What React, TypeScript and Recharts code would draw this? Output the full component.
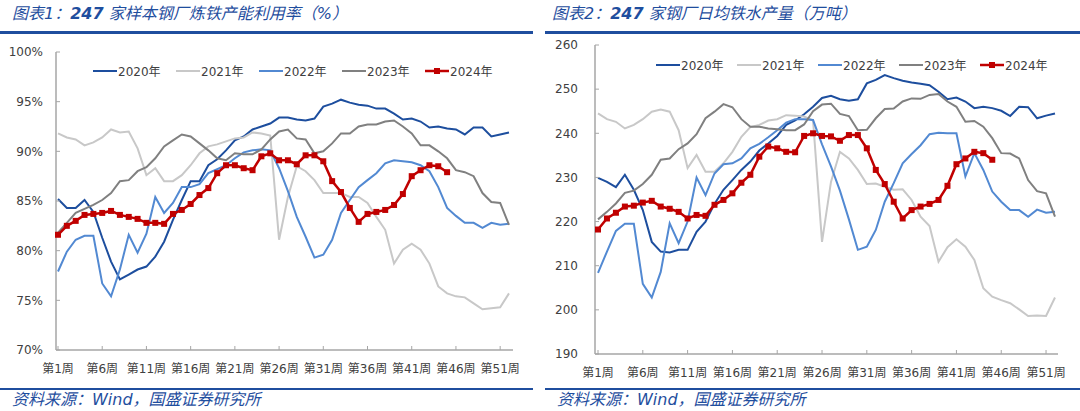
import { LineChart, Line, XAxis, YAxis } from 'recharts'
import type { ReactNode } from 'react'

const weeks = Array.from({ length: 52 }, (_, i) => `第${i + 1}周`)
const years = ['2020年', '2021年', '2022年', '2023年', '2024年']

// 图表1 产能利用率 (%)
const util2020 = [85.2, 84.3, 84.3, 85.1, 83.9, 81.3, 78.9, 77.1, 77.6, 78.1, 78.4, 79.4, 80.9, 83.1, 85.1, 87.0, 87.0, 88.6, 89.2, 90.1, 91.1, 91.5, 92.2, 92.5, 92.8, 93.4, 93.4, 93.2, 93.1, 93.3, 94.5, 94.8, 95.2, 94.9, 94.7, 94.6, 94.3, 94.3, 93.8, 93.2, 93.3, 93.0, 92.4, 92.5, 92.3, 92.2, 91.7, 92.4, 92.4, 91.5, 91.7, 91.9]
const util2021 = [91.8, 91.4, 91.2, 90.6, 90.9, 91.4, 92.2, 91.9, 92.0, 90.3, 87.6, 88.3, 87.0, 87.0, 87.6, 88.6, 89.8, 90.5, 90.7, 91.0, 91.3, 91.4, 91.9, 91.8, 91.6, 81.1, 85.4, 88.5, 88.0, 87.1, 85.8, 85.8, 85.8, 85.4, 85.4, 84.8, 83.4, 82.1, 78.7, 80.1, 80.7, 80.1, 78.7, 76.4, 75.7, 75.4, 75.3, 74.7, 74.1, 74.2, 74.3, 75.7]
const util2022 = [77.9, 79.9, 81.1, 81.5, 81.5, 76.7, 75.4, 78.1, 81.6, 79.8, 81.7, 85.4, 83.8, 84.8, 86.4, 86.4, 86.7, 87.8, 88.2, 88.6, 89.3, 89.9, 90.1, 90.2, 90.1, 88.3, 86.0, 83.4, 81.4, 79.3, 79.6, 81.1, 83.8, 85.1, 86.4, 87.1, 87.8, 88.8, 89.1, 89.0, 88.9, 88.6, 88.0, 86.4, 84.3, 83.5, 82.8, 82.8, 82.3, 82.8, 82.6, 82.7]
const util2023 = [81.8, 82.8, 83.8, 84.2, 84.6, 85.1, 85.8, 87.0, 87.1, 88.0, 88.4, 89.3, 90.5, 91.1, 91.7, 91.5, 90.8, 90.1, 89.3, 89.1, 89.8, 89.7, 89.7, 90.2, 91.2, 92.0, 92.2, 91.3, 91.2, 89.8, 90.0, 90.8, 91.8, 91.8, 92.5, 92.7, 92.7, 93.0, 93.1, 92.5, 91.8, 90.6, 90.6, 90.0, 89.3, 88.1, 87.9, 87.5, 85.8, 84.9, 84.8, 82.6]
const util2024 = [81.6, 82.5, 83.0, 83.6, 83.7, 83.8, 84.0, 83.6, 83.4, 83.2, 82.8, 82.8, 82.7, 83.7, 84.1, 84.7, 85.6, 86.3, 87.8, 88.6, 88.6, 88.3, 88.1, 89.5, 89.8, 89.1, 89.1, 88.7, 89.6, 89.6, 89.0, 87.0, 85.9, 84.3, 82.9, 83.7, 83.9, 84.1, 84.6, 85.7, 87.5, 88.1, 88.6, 88.5, 87.9]
const utilTicks = [70, 75, 80, 85, 90, 95, 100]

// 图表2 日均铁水产量 (万吨)
const iron2020 = [229.9, 229.0, 227.8, 230.6, 227.2, 222.6, 215.4, 213.2, 213.0, 213.6, 213.6, 217.7, 220.0, 224.0, 227.2, 229.4, 231.7, 233.6, 236.1, 237.7, 239.4, 241.9, 242.9, 244.3, 246.0, 248.0, 248.5, 247.7, 247.4, 247.7, 251.3, 252.1, 253.2, 252.5, 251.9, 251.5, 251.2, 250.9, 249.4, 247.7, 248.1, 247.2, 245.7, 246.0, 245.7, 245.1, 243.9, 246.0, 245.9, 243.4, 244.0, 244.5]
const iron2021 = [244.5, 243.2, 242.6, 241.1, 241.9, 243.2, 244.9, 245.4, 244.9, 240.7, 232.1, 235.1, 231.3, 231.3, 233.2, 235.8, 239.2, 241.4, 241.9, 242.9, 243.2, 244.1, 244.0, 243.8, 242.9, 215.4, 229.0, 235.8, 234.3, 231.7, 228.5, 228.6, 227.9, 227.2, 227.3, 224.9, 221.1, 219.0, 210.9, 214.2, 216.0, 214.3, 211.3, 204.9, 203.0, 202.2, 201.5, 200.1, 198.6, 198.7, 198.6, 202.8]
const iron2022 = [208.4, 213.2, 217.9, 219.5, 219.5, 205.9, 202.8, 208.6, 219.6, 215.1, 220.0, 230.0, 226.0, 230.9, 233.0, 233.2, 234.3, 236.6, 237.6, 239.1, 240.7, 242.4, 243.2, 243.2, 243.0, 237.5, 232.5, 227.0, 220.5, 213.6, 214.3, 218.1, 224.5, 228.7, 233.2, 235.3, 237.3, 239.8, 240.1, 240.0, 240.0, 230.2, 235.5, 231.7, 226.8, 224.5, 222.6, 222.6, 221.1, 222.7, 222.0, 222.2]
const iron2023 = [220.5, 222.2, 224.1, 226.5, 227.0, 228.5, 230.6, 234.0, 234.3, 236.4, 237.7, 239.8, 243.4, 244.9, 246.6, 245.9, 243.2, 241.5, 241.5, 241.1, 240.9, 240.7, 240.7, 242.0, 245.0, 246.5, 246.7, 244.4, 243.9, 240.7, 240.8, 243.4, 245.5, 245.6, 247.2, 247.9, 247.8, 248.7, 248.9, 247.2, 246.0, 242.6, 242.8, 241.5, 238.9, 235.5, 235.4, 234.3, 229.4, 226.9, 226.4, 221.1]
const iron2024 = [218.2, 220.7, 222.0, 223.4, 223.6, 224.3, 224.7, 223.4, 222.9, 222.2, 220.7, 221.5, 221.3, 223.8, 224.9, 226.4, 228.8, 230.6, 234.7, 237.0, 236.6, 235.8, 235.7, 239.4, 240.0, 239.4, 239.3, 238.3, 239.6, 239.6, 236.6, 231.7, 228.5, 224.5, 220.7, 222.6, 223.4, 224.0, 224.9, 228.1, 233.0, 234.3, 235.8, 235.5, 234.0]
const ironTicks = [190, 200, 210, 220, 230, 240, 250, 260]

const colors = ['#1D4E9E', '#C8C8C8', '#5289D2', '#808080', '#C00000']
const widths = [2, 2, 2, 2, 2.5]
const FONT = "'DejaVu Sans', 'Noto Sans CJK SC', sans-serif"
const BLUE = '#1F4E9E'

function toRows(series: number[][]) {
  return weeks.map((week, i) => {
    const row: Record<string, string | number | null> = { week }
    years.forEach((y, k) => { row[y] = series[k][i] ?? null })
    return row
  })
}

const Square = (props: any) => {
  const { cx, cy, index } = props
  if (cx == null || cy == null) return <g key={index} />
  return <rect key={index} x={cx - 3} y={cy - 3} width={6} height={6} fill="#C00000" />
}

function Legend({ left, top, pitch }: { left: number; top: number; pitch: number }) {
  return (
    <div style={{ position: 'absolute', left, top, display: 'flex', fontFamily: FONT, fontSize: 12, color: '#404040' }}>
      {years.map((y, k) => (
        <div key={y} style={{ width: pitch, display: 'flex', alignItems: 'center' }}>
          <svg width={24} height={10}>
            <line x1={0} y1={5} x2={24} y2={5} stroke={colors[k]} strokeWidth={widths[k]} />
            {k === 4 && <rect x={9} y={2} width={6} height={6} fill="#C00000" />}
          </svg>
          <span style={{ marginLeft: 1 }}>{y}</span>
        </div>
      ))}
    </div>
  )
}

interface PanelProps {
  x: number
  title: ReactNode
  series: number[][]
  domain: [number, number]
  ticks: number[]
  unit: string
  margin: { top: number; right: number; left: number; bottom: number }
  yWidth: number
  yMargin: number
  pad: { left: number; right: number }
  legend: { left: number; top: number; pitch: number }
}

function Panel(p: PanelProps) {
  const data = toRows(p.series)
  const tick = { fill: '#404040', fontSize: 12, fontFamily: FONT }
  return (
    <div style={{ position: 'absolute', left: p.x, top: 0, width: 540, height: 411 }}>
      <div style={{ position: 'absolute', left: 12, top: 3, fontFamily: FONT, fontStyle: 'italic', fontSize: 16, lineHeight: '22px', color: BLUE, whiteSpace: 'nowrap' }}>
        {p.title}
      </div>
      <LineChart width={540} height={411} data={data} margin={p.margin}>
        <XAxis
          dataKey="week"
          interval={4}
          tick={tick}
          tickSize={-4}
          tickMargin={18}
          height={30}
          padding={p.pad}
          axisLine={{ stroke: '#A6A6A6', strokeWidth: 1.5 }}
          tickLine={{ stroke: '#A6A6A6' }}
        />
        <YAxis
          domain={p.domain}
          ticks={p.ticks}
          tickFormatter={v => `${v}${p.unit}`}
          width={p.yWidth}
          tick={tick}
          tickSize={-4}
          tickMargin={p.yMargin}
          axisLine={{ stroke: '#A6A6A6', strokeWidth: 1.5 }}
          tickLine={{ stroke: '#A6A6A6' }}
        />
        {years.map((y, k) => (
          <Line
            key={y}
            dataKey={y}
            stroke={colors[k]}
            strokeWidth={widths[k]}
            dot={k === 4 ? Square : false}
            activeDot={false}
            isAnimationActive={false}
          />
        ))}
      </LineChart>
      <Legend {...p.legend} />
    </div>
  )
}

const lineStyle = { position: 'absolute' as const, background: BLUE }
const srcStyle = { position: 'absolute' as const, top: 389, fontFamily: FONT, fontStyle: 'italic', fontSize: 16, lineHeight: '22px', color: BLUE, whiteSpace: 'nowrap' as const }

export default function App() {
  return (
    <div style={{ position: 'absolute', left: 0, top: 0, width: 1080, height: 411, background: '#fff', overflow: 'hidden' }}>
      <Panel
        x={0}
        title={<>图表1：<b>247</b> 家样本钢厂炼铁产能利用率（%）</>}
        series={[util2020, util2021, util2022, util2023, util2024]}
        domain={[70, 100]}
        ticks={utilTicks}
        unit="%"
        margin={{ top: 52, right: 27, left: 0, bottom: 31 }}
        yWidth={56}
        yMargin={17}
        pad={{ left: 2, right: 4 }}
        legend={{ left: 93, top: 62, pitch: 83 }}
      />
      <Panel
        x={540}
        title={<>图表2：<b>247</b> 家钢厂日均铁水产量（万吨）</>}
        series={[iron2020, iron2021, iron2022, iron2023, iron2024]}
        domain={[190, 260]}
        ticks={ironTicks}
        unit=""
        margin={{ top: 45, right: 22, left: 0, bottom: 27 }}
        yWidth={55}
        yMargin={21}
        pad={{ left: 3, right: 3 }}
        legend={{ left: 116, top: 56, pitch: 81 }}
      />
      <div style={{ ...lineStyle, left: 0, top: 31, width: 533, height: 3 }} />
      <div style={{ ...lineStyle, left: 545, top: 31, width: 535, height: 3 }} />
      <div style={{ ...lineStyle, left: 0, top: 388, width: 533, height: 2 }} />
      <div style={{ ...lineStyle, left: 545, top: 388, width: 535, height: 2 }} />
      <div style={{ ...srcStyle, left: 12 }}>资料来源：Wind，国盛证券研究所</div>
      <div style={{ ...srcStyle, left: 557 }}>资料来源：Wind，国盛证券研究所</div>
    </div>
  )
}
